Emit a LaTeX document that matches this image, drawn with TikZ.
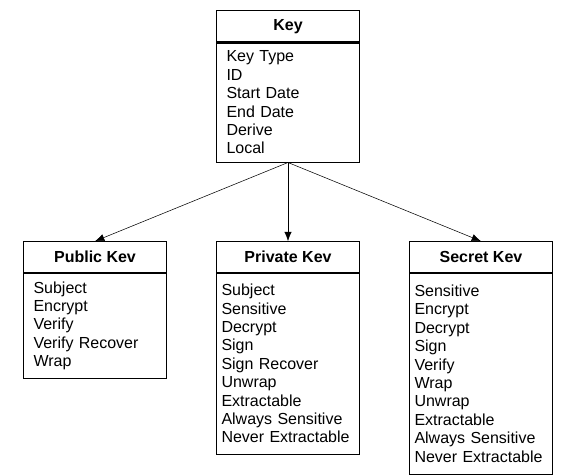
\documentclass[tikz,border=0pt]{standalone}
\usepackage{fontspec}
\setmainfont{Liberation Sans}
\usetikzlibrary{arrows.meta,positioning}

\begin{document}
\begin{tikzpicture}[x=0.75pt,y=-0.75pt,>={Latex[length=7pt,width=5.5pt]}]
			\tikzset{head/.style= {draw, rectangle, outer sep=0pt, line width=0.75pt, minimum width=107.25pt, minimum height=24pt, font=\fontsize{12}{13.8}\selectfont\bfseries},
			body/.style= {draw, rectangle, outer sep=0pt, line width=0.75pt, align=left, inner ysep=0pt, font=\fontsize{12}{13.8}\selectfont},
			wide/.style= {body, inner xsep=7.5pt, text width=92.25pt},
			narrow/.style= {body, inner xsep=3.75pt, text width=99.75pt},
			sep/.style= {line width=1.6pt},
			}
			\useasboundingbox (0,0) rectangle (577,475);
			\node [head] (key) at (288,26.5) {Key};
			\node [wide, below = 0pt of key, minimum height=90pt] (keyb) {Key Type\\ID\\Start Date\\End Date\\Derive\\Local};
			\node [head, below = 59pt of keyb] (priv) {Private Kev};
			\node [narrow, below = 0pt of priv, minimum height=135.75pt] (privb) {Subject\\Sensitive\\Decrypt\\Sign\\Sign Recover\\Unwrap\\Extractable\\Always Sensitive\\Never Extractable};
			\node [head, left = 37.5pt of priv] (pub) {Public Kev};
			\node [wide, below = 0pt of pub, minimum height=78.75pt] (pubb) {Subject\\Encrypt\\Verify\\Verify Recover\\Wrap};
			\node [head, right = 37.5pt of priv] (sec) {Secret Kev};
			\node [narrow, below = 0pt of sec, minimum height=150.75pt] (secb) {Sensitive\\Encrypt\\Decrypt\\Sign\\Verify\\Wrap\\Unwrap\\Extractable\\Always Sensitive\\Never Extractable};

			\draw[sep] (keyb.north west) -- (keyb.north east);
			\draw[sep] (pubb.north west) -- (pubb.north east);
			\draw[sep] (privb.north west) -- (privb.north east);
			\draw[sep] (secb.north west) -- (secb.north east);

			\path[draw, ->]
			(keyb.south) -- (pub.north);
			\path[draw, ->]
			(keyb.south) -- (priv.north);
			\path[draw, ->]
			(keyb.south) -- (sec.north);
		\end{tikzpicture}
\end{document}
